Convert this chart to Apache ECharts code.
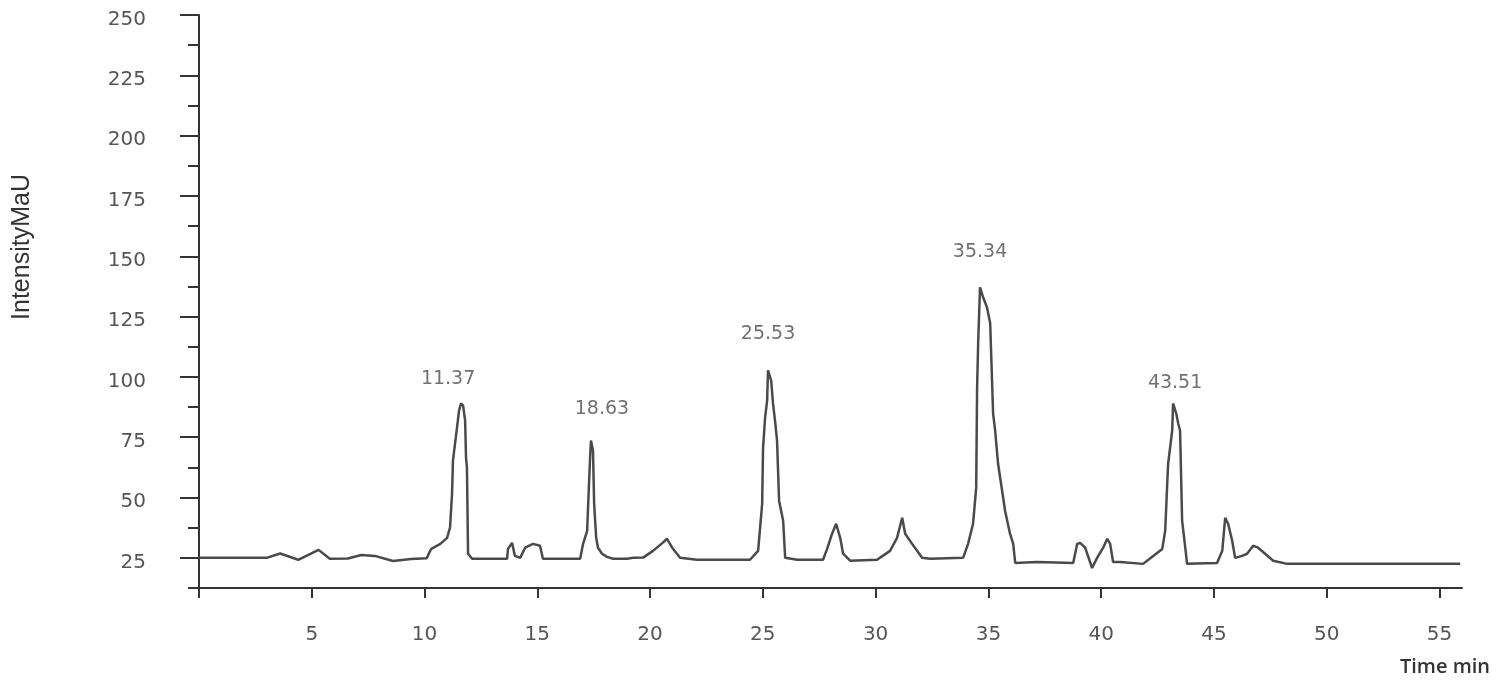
<!DOCTYPE html>
<html>
<head>
<meta charset="utf-8">
<script src="https://cdn.jsdelivr.net/npm/echarts@6/dist/echarts.min.js"></script>
<style>
  html, body { margin: 0; padding: 0; background: #ffffff; }
  #chart { width: 1499px; height: 692px; }
</style>
</head>
<body>
<div id="chart"></div>
<script>
// ---- data ----
const timeMin = [
  0, 3.0, 3.6, 4.4, 5.3, 5.8, 6.6, 7.2, 7.8, 8.6,
  9.4, 10.1, 10.2, 10.3, 10.7, 11.0, 11.13, 11.22, 11.26, 11.44,
  11.53, 11.62, 11.71, 11.80, 11.84, 11.88, 11.93, 12.11, 13.66, 13.70,
  13.88, 14.01, 14.24, 14.46, 14.81, 15.12, 15.25, 16.90, 17.03, 17.21,
  17.25, 17.34, 17.38, 17.47, 17.52, 17.61, 17.69, 17.87, 18.09, 18.36,
  18.98, 19.25, 19.69, 20.13, 20.58, 20.75, 20.98, 21.33, 22.08, 24.43,
  24.79, 24.97, 25.01, 25.10, 25.19, 25.23, 25.37, 25.45, 25.54, 25.63,
  25.72, 25.90, 25.99, 26.52, 27.67, 27.85, 28.07, 28.25, 28.43, 28.56,
  28.87, 30.07, 30.20, 30.64, 30.95, 31.18, 31.31, 31.62, 31.84, 32.06,
  32.42, 33.88, 34.10, 34.32, 34.46, 34.50, 34.55, 34.63, 34.77, 34.94,
  35.08, 35.21, 35.30, 35.43, 35.61, 35.74, 35.96, 36.10, 36.19, 37.16,
  38.76, 38.94, 39.07, 39.29, 39.60, 39.82, 40.09, 40.27, 40.40, 40.53,
  40.84, 41.86, 42.31, 42.71, 42.84, 42.93, 42.97, 43.15, 43.19, 43.33,
  43.42, 43.50, 43.59, 43.73, 43.81, 45.14, 45.37, 45.50, 45.63, 45.81,
  45.94, 46.25, 46.47, 46.74, 46.96, 47.27, 47.63, 48.25, 55.92
];
const intensityMaU = [
  25.0, 25.0, 26.8, 24.2, 28.3, 24.6, 24.7, 26.2, 25.8, 23.7,
  24.5, 24.8, 27.0, 28.7, 30.8, 33.3, 37.5, 51.6, 65.3, 79.0,
  86.0, 89.0, 88.1, 81.9, 66.5, 62.4, 26.7, 24.6, 24.6, 28.7,
  31.2, 25.8, 25.0, 29.2, 30.8, 30.0, 24.6, 24.6, 30.8, 36.2,
  45.8, 66.5, 73.6, 69.4, 47.4, 33.3, 29.2, 26.7, 25.4, 24.6,
  24.6, 25.0, 25.1, 27.9, 31.4, 32.9, 29.2, 25.0, 24.2, 24.2,
  27.9, 47.4, 70.7, 83.1, 90.2, 102.7, 98.5, 89.0, 81.9, 73.6,
  48.7, 40.4, 25.0, 24.2, 24.2, 28.7, 35.0, 39.1, 33.3, 26.7,
  23.8, 24.2, 25.1, 27.9, 33.3, 41.6, 35.0, 30.8, 27.9, 25.0,
  24.6, 25.0, 30.8, 39.1, 54.1, 95.6, 115.1, 137.1, 132.9, 128.8,
  122.2, 84.8, 77.7, 64.0, 52.8, 44.5, 35.0, 30.8, 22.9, 23.3,
  22.9, 30.8, 31.2, 29.2, 20.8, 25.0, 29.2, 32.9, 30.8, 23.3,
  23.3, 22.5, 25.8, 28.7, 36.2, 55.7, 64.0, 77.7, 89.0, 84.8,
  80.6, 77.7, 40.4, 29.2, 22.5, 22.9, 27.9, 41.6, 39.1, 32.1,
  25.0, 25.8, 26.7, 30.0, 29.2, 26.7, 23.8, 22.5, 22.5
];

const peakLabels = ['11.37', '18.63', '25.53', '35.34', '43.51'];
const peakApexTime = [11.62, 17.38, 25.23, 34.63, 43.19];
const peakApexValue = [89.0, 73.6, 102.7, 137.1, 89.0];

const xTickValues = [0, 5, 10, 15, 20, 25, 30, 35, 40, 45, 50, 55];
const xLabelValues = [5, 10, 15, 20, 25, 30, 35, 40, 45, 50, 55];
const yMajorTicks = [25, 50, 75, 100, 125, 150, 175, 200, 225, 250];
const yMinorTicks = [12.5, 37.5, 62.5, 87.5, 112.5, 137.5, 162.5, 187.5, 212.5, 237.5];

const yAxisTitle = 'IntensityMaU';
const xAxisTitle = 'Time min';

// ---- layout / style (not data) ----
const peakLabelOffsets = [[-13, -24], [11, -32], [0, -36], [0, -35], [2, -20]];
const axisColor = '#333333';
const textColor = '#555555';

const traceData = timeMin.map((t, i) => [t, intensityMaU[i]]);
const peakData = peakApexTime.map((t, i) => ({
  value: [t, peakApexValue[i]],
  label: { offset: peakLabelOffsets[i], formatter: peakLabels[i] }
}));

const chart = echarts.init(document.getElementById('chart'), null, { renderer: 'canvas' });
chart.setOption({
  backgroundColor: '#ffffff',
  animation: false,
  grid: { left: 199, right: 37, top: 15, bottom: 104, containLabel: false },
  xAxis: {
    type: 'value', min: 0, max: 56,
    axisLine: { show: true, onZero: false, lineStyle: { color: axisColor, width: 2 } },
    axisTick: { show: true, inside: false, length: 10, customValues: xTickValues,
      lineStyle: { color: axisColor, width: 2 } },
    axisLabel: { show: true, customValues: xLabelValues, margin: 37,
      fontFamily: 'DejaVu Sans', fontSize: 20, color: textColor },
    splitLine: { show: false }
  },
  yAxis: [{
    type: 'value', min: 12.5, max: 250,
    axisLine: { show: true, lineStyle: { color: axisColor, width: 2 } },
    axisTick: { show: true, inside: false, length: 19, customValues: yMajorTicks,
      lineStyle: { color: axisColor, width: 2 } },
    axisLabel: { show: true, customValues: yMajorTicks, margin: 53,
      formatter: v => '{v|' + v + '}',
      rich: { v: { fontFamily: 'DejaVu Sans', fontSize: 20, color: textColor,
        padding: [9, 0, 0, 0] } } },
    splitLine: { show: false }
  }, {
    type: 'value', min: 12.5, max: 250, position: 'left',
    axisLine: { show: false },
    axisTick: { show: true, inside: false, length: 11, customValues: yMinorTicks,
      lineStyle: { color: axisColor, width: 2 } },
    axisLabel: { show: false },
    splitLine: { show: false }
  }],
  series: [{
    type: 'line',
    data: traceData,
    showSymbol: false,
    smooth: false,
    lineStyle: { color: '#4a4a4a', width: 2.5 },
    silent: true,
    z: 3
  }, {
    type: 'scatter',
    data: peakData,
    symbolSize: 0,
    silent: true,
    label: {
      show: true, position: 'inside', align: 'center', verticalAlign: 'middle',
      fontFamily: 'DejaVu Sans', fontSize: 19, color: '#4d4d4d'
    },
    z: 4
  }],
  graphic: [{
    type: 'text',
    x: 22, y: 247,
    rotation: Math.PI / 2,
    style: {
      text: yAxisTitle, x: 0, y: 0, align: 'center', verticalAlign: 'middle',
      font: '25px "Liberation Sans Narrow", "Liberation Sans", sans-serif',
      fill: '#333333'
    }
  }, {
    type: 'text',
    right: 9, top: 657,
    style: {
      text: xAxisTitle,
      font: '600 20px "Open Sans", "DejaVu Sans", sans-serif',
      fill: '#333333'
    }
  }]
});
</script>
</body>
</html>
